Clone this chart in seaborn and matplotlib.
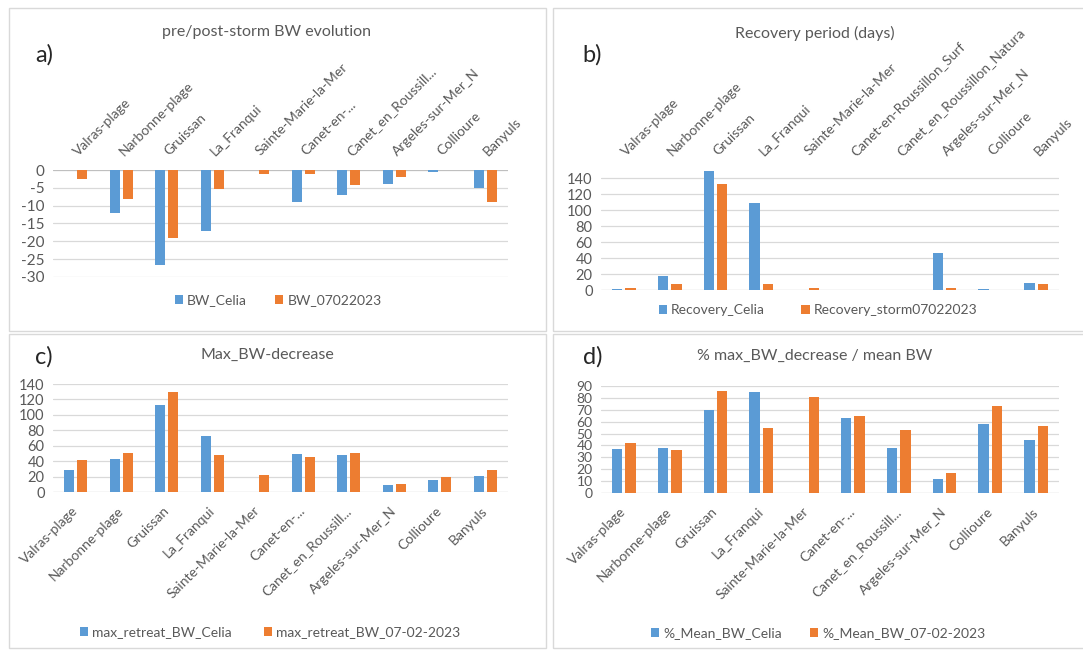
import numpy as np
import pandas as pd
import matplotlib
matplotlib.use("Agg")
import matplotlib.pyplot as plt
from matplotlib.patches import Rectangle, Patch
import seaborn as sns

# ---------------- data ----------------
sites_short = ["Valras-plage", "Narbonne-plage", "Gruissan", "La_Franqui",
               "Sainte-Marie-la-Mer", "Canet-en-...", "Canet_en_Roussill...",
               "Argeles-sur-Mer_N", "Collioure", "Banyuls"]
sites_full = ["Valras-plage", "Narbonne-plage", "Gruissan", "La_Franqui",
              "Sainte-Marie-la-Mer", "Canet-en-Roussillon_Surf",
              "Canet_en_Roussillon_Natura", "Argeles-sur-Mer_N", "Collioure", "Banyuls"]

bw_celia = [0, -12, -26.5, -17, 0, -9, -7, -4, -0.5, -5]
bw_0702 = [-2.5, -8, -19, -5.3, -1, -1.2, -4.3, -2, 0, -9]

rec_celia = [1, 18, 149, 109, 0, 0, 0, 46, 1, 9]
rec_0702 = [3, 7, 133, 8, 3, 0, 0, 3, 0, 7]

max_celia = [29, 43, 113, 73, 0, 49, 48, 9, 16, 21]
max_0702 = [42, 51, 129, 48, 22, 45, 50, 11, 20, 28]

pct_celia = [37, 38, 70, 85, 0, 63, 38, 12, 58, 45]
pct_0702 = [42, 36, 86, 55, 81, 65, 53, 17, 73, 56]

yticks_a = [0, -5, -10, -15, -20, -25, -30]
yticks_b = [0, 20, 40, 60, 80, 100, 120, 140]
yticks_c = [0, 20, 40, 60, 80, 100, 120, 140]
yticks_d = [0, 10, 20, 30, 40, 50, 60, 70, 80, 90]

BLUE = "#5B9BD5"
ORANGE = "#ED7D31"
GRID = "#D9D9D9"
TXT = "#595959"

sns.set_theme(style="white")
plt.rcParams["font.family"] = ["Lato", "DejaVu Sans"]

W, H = 1083, 650
fig = plt.figure(figsize=(W / 100, H / 100), dpi=100)
fig.patch.set_facecolor("white")

def px_rect(x0, y0, x1, y1):
    return [x0 / W, 1 - y1 / H, (x1 - x0) / W, (y1 - y0) / H]

# panel borders
for (x0, y0, x1, y1) in [(9, 8, 546, 331), (553, 8, 1090, 331),
                         (9, 334, 546, 648), (553, 334, 1090, 648)]:
    fig.patches.append(Rectangle((x0 / W, 1 - y1 / H), (x1 - x0) / W, (y1 - y0) / H,
                                 transform=fig.transFigure, fill=False,
                                 edgecolor="#D9D9D9", linewidth=1.0, zorder=0))


def panel(rect, labels, s1, s2, names, yticks, ylim, top_labels, letter, letter_pos,
          title, title_pos, leg_pos, colsp, ysize):
    ax = fig.add_axes(px_rect(*rect))
    df = pd.DataFrame({
        "site": labels * 2,
        "value": list(s1) + list(s2),
        "series": [names[0]] * len(labels) + [names[1]] * len(labels),
    })
    sns.barplot(data=df, x="site", y="value", hue="series", hue_order=names,
                order=labels, palette=[BLUE, ORANGE], width=0.58, gap=0.22,
                errorbar=None, linewidth=0, saturation=1, ax=ax, zorder=3)
    ax.set_xlim(-0.5, len(labels) - 0.5)
    ax.set_ylim(*ylim)
    ax.set_yticks(yticks)
    ax.set_yticklabels([str(t) for t in yticks])
    ax.set_xlabel("")
    ax.set_ylabel("")
    for sp in ax.spines.values():
        sp.set_visible(False)
    for t in yticks:
        ax.axhline(t, color=GRID if t != 0 else "#BFBFBF", lw=0.9, zorder=1)
    ax.tick_params(axis="both", length=0, colors=TXT, labelsize=10)
    ax.tick_params(axis="y", pad=6, labelsize=ysize)
    ax.set_facecolor("none")
    ax.set_xticks(range(len(labels)))
    if top_labels:
        ax.xaxis.tick_top()
        ax.set_xticklabels(labels, rotation=45, ha="left", va="center",
                           rotation_mode="anchor", fontsize=10, color=TXT)
    else:
        ax.set_xticklabels(labels, rotation=45, ha="right", va="center",
                           rotation_mode="anchor", fontsize=10, color=TXT)
    ax.tick_params(axis="x", pad=12)
    leg = ax.get_legend()
    if leg is not None:
        leg.remove()
    handles = [Patch(facecolor=BLUE, edgecolor="none"), Patch(facecolor=ORANGE, edgecolor="none")]
    fig.legend(handles, names, loc="center", bbox_to_anchor=(leg_pos[0] / W, 1 - leg_pos[1] / H),
               ncol=2, frameon=False, fontsize=10, handlelength=0.6, handleheight=0.6,
               handletextpad=0.3, columnspacing=colsp, labelcolor=TXT)
    fig.text(title_pos[0] / W, 1 - title_pos[1] / H, title, ha="center", va="center",
             fontsize=11.5, color=TXT)
    fig.text(letter_pos[0] / W, 1 - letter_pos[1] / H, letter, ha="left", va="center",
             fontsize=17, color="#262626")
    return ax


panel((53, 170, 508, 277), sites_short, bw_celia, bw_0702, ["BW_Celia", "BW_07022023"],
      yticks_a, (-30, 0), True, "a)", (35, 55), "pre/post-storm BW evolution", (267, 32),
      (278, 300), 2.0, 11)
panel((601, 170, 1059, 290), sites_full, rec_celia, rec_0702,
      ["Recovery_Celia", "Recovery_storm07022023"],
      yticks_b, (0, 150), True, "b)", (582, 55), "Recovery period (days)", (815, 33),
      (818, 310), 2.6, 10.5)
panel((53, 384, 508, 492), sites_short, max_celia, max_0702,
      ["max_retreat_BW_Celia", "max_retreat_BW_07-02-2023"],
      yticks_c, (0, 140), False, "c)", (35, 357), "Max_BW-decrease", (267, 355),
      (270, 632), 2.3, 10.5)
panel((601, 386, 1059, 493), sites_short, pct_celia, pct_0702,
      ["%_Mean_BW_Celia", "%_Mean_BW_07-02-2023"],
      yticks_d, (0, 90), False, "d)", (583, 357), "% max_BW_decrease / mean BW", (815, 356),
      (818, 633), 2.0, 10)

fig.savefig("out.png", dpi=100, facecolor="white")
